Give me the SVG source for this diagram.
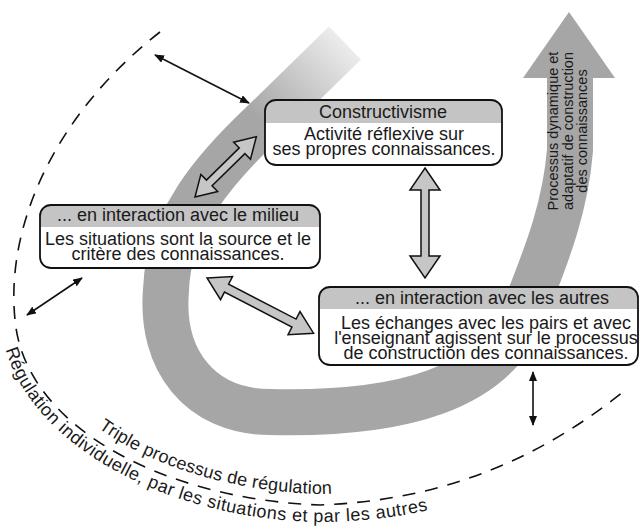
<svg xmlns="http://www.w3.org/2000/svg" width="640" height="531" viewBox="0 0 640 531">
<style>
text{font-family:"Liberation Sans",Arial,sans-serif;fill:#1a1a1a}
.hd,.bd{font-size:18px;text-anchor:middle}
.box{fill:#fff}
.hdr{fill:#c4c4c4}
.frame{fill:none;stroke:#111;stroke-width:1.8}
.blk{fill:#c6c6c6;stroke:#111;stroke-width:1.5}
.thin{stroke:#111;stroke-width:1.6;fill:none;marker-start:url(#ah);marker-end:url(#ah)}
.dash{fill:none;stroke:#111;stroke-width:1.6;stroke-dasharray:13 10}
.curv{font-size:18px}
.arrtxt{font-size:14.5px;text-anchor:middle}
</style>
<defs>
<marker id="ah" viewBox="0 0 10 8" refX="9" refY="4" markerWidth="10" markerHeight="8" markerUnits="userSpaceOnUse" orient="auto-start-reverse"><path d="M0,0 L10,4 L0,8 Z" fill="#111"/></marker>
<linearGradient id="fade" gradientUnits="userSpaceOnUse" x1="345" y1="43" x2="262" y2="124"><stop offset="0" stop-color="#ececec"/><stop offset="1" stop-color="#a6a6a6"/></linearGradient>
<path id="outerP" d="M0,320 C10,440 165,520 320,522 C450,521 545,478 630,408"/>
<path id="innerP" d="M27,317 C37,423 176,490 320,494 C450,490 541,447 619,380"/>
</defs>

<g id="swoosh">
<path d="M264,122 C215,168 168,222 166,290 C160,360 200,412 270,412 C400,415 495,390 525,310 C540,270 565,215 570,150 L570,76" fill="none" stroke="#a6a6a6" stroke-width="46"/>
<path d="M345,43 L262,124" fill="none" stroke="url(#fade)" stroke-width="46"/>
<polygon points="569,12 615,78 523,78" fill="#a6a6a6"/>
<text class="arrtxt" transform="translate(558,131) rotate(-90)"><tspan x="0" y="0">Processus dynamique et</tspan><tspan x="0" y="14.5">adaptatif de construction</tspan><tspan x="0" y="29">des connaissances</tspan></text>
</g>

<g id="regulation">
<path class="dash" d="M160,32 C60,110 5,220 15,320 C25,430 170,500 320,505 C450,500 545,455 628,388"/>
<text class="curv" letter-spacing="0.2"><textPath href="#innerP" startOffset="136">Triple processus de régulation</textPath></text>
<text class="curv" letter-spacing="0.5"><textPath href="#outerP" startOffset="30">Régulation individuelle, par les situations et par les autres</textPath></text>
</g>

<g id="connectors">
<polygon class="blk" transform="translate(195,197) rotate(-44.5)" points="0,0 20,-12 20,-4 66,-4 66,-12 86,0 66,12 66,4 20,4 20,12"/>
<polygon class="blk" transform="translate(207,278) rotate(27.4)" points="0,0 22,-13 22,-4.5 98,-4.5 98,-13 120,0 98,13 98,4.5 22,4.5 22,13"/>
<polygon class="blk" transform="translate(425,168) rotate(90)" points="0,0 22,-15 22,-4 88,-4 88,-15 110,0 88,15 88,4 22,4 22,15"/>
<line class="thin" x1="155" y1="55" x2="249" y2="103"/>
<line class="thin" x1="82" y1="278" x2="27" y2="315"/>
<line class="thin" x1="533" y1="372" x2="533" y2="425"/>
</g>

<g id="n-constructivisme">
<rect class="box" x="265" y="100" width="237" height="65" rx="11"/>
<path class="hdr" d="M265,123 V111 A11,11 0 0 1 276,100 H491 A11,11 0 0 1 502,111 V123 Z"/>
<rect class="frame" x="265" y="100" width="237" height="65" rx="11"/>
<text class="hd" x="383" y="118">Constructivisme</text>
<text class="bd" x="384" y="140">Activité réflexive sur</text>
<text class="bd" x="384" y="155">ses propres connaissances.</text>
</g>

<g id="n-milieu">
<rect class="box" x="40" y="205" width="280" height="63" rx="11"/>
<path class="hdr" d="M40,227 V216 A11,11 0 0 1 51,205 H309 A11,11 0 0 1 320,216 V227 Z"/>
<rect class="frame" x="40" y="205" width="280" height="63" rx="11"/>
<text class="hd" x="178" y="221">... en interaction avec le milieu</text>
<text class="bd" x="178" y="245">Les situations sont la source et le</text>
<text class="bd" x="178" y="260">critère des connaissances.</text>
</g>

<g id="n-autres">
<rect class="box" x="319" y="287" width="319" height="78" rx="11"/>
<path class="hdr" d="M319,309 V298 A11,11 0 0 1 330,287 H627 A11,11 0 0 1 638,298 V309 Z"/>
<rect class="frame" x="319" y="287" width="319" height="78" rx="11"/>
<text class="hd" x="482" y="304">... en interaction avec les autres</text>
<text class="bd" x="486" y="329">Les échanges avec les pairs et avec</text>
<text class="bd" x="486" y="344">l'enseignant agissent sur le processus</text>
<text class="bd" x="486" y="359">de construction des connaissances.</text>
</g>
</svg>
